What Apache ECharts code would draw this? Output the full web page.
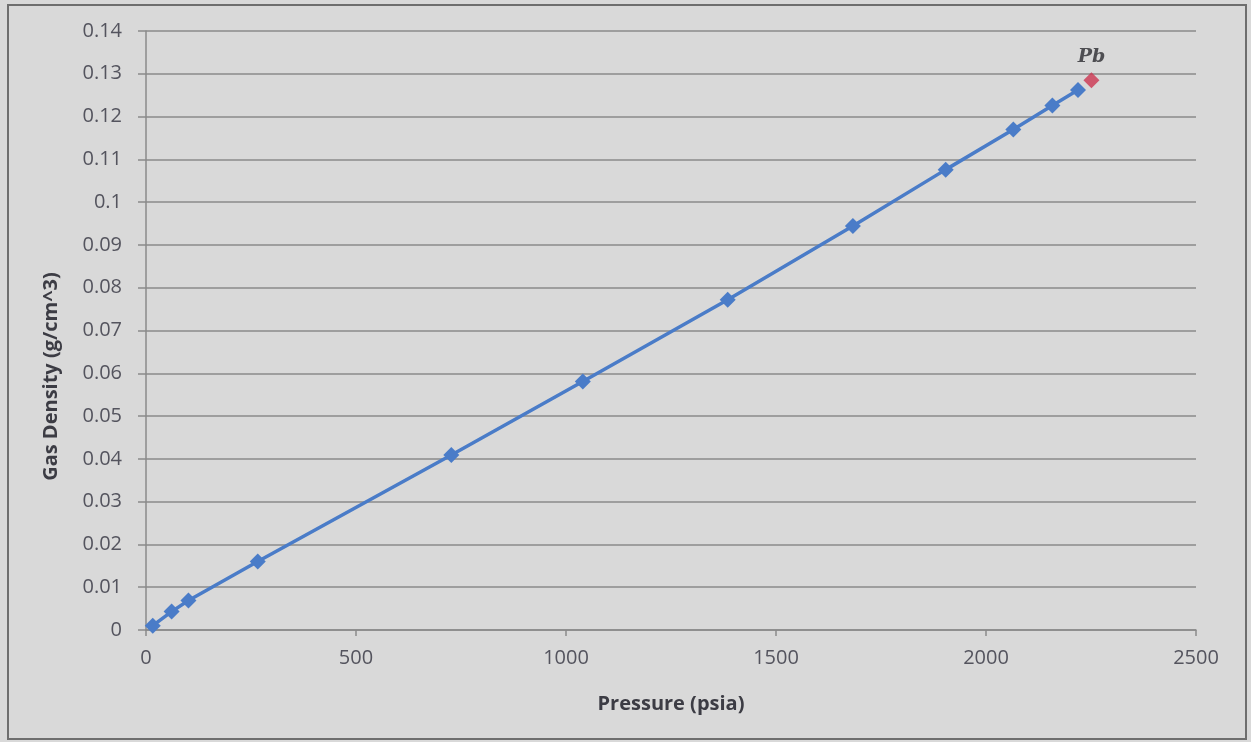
<!DOCTYPE html>
<html>
<head>
<meta charset="utf-8">
<title>Gas Density vs Pressure</title>
<script src="https://cdn.jsdelivr.net/npm/echarts@6/dist/echarts.min.js"></script>
<style>
  html, body { margin: 0; padding: 0; background: #d9d9d9; }
  #chart { width: 1251px; height: 742px; }
</style>
</head>
<body>
<div id="chart"></div>
<script>
// Measured gas density at each pressure step (psia, g/cm^3)
const pressure = [16, 61, 101, 266, 727, 1040, 1385, 1683, 1904, 2065, 2158, 2219];
const density  = [0.0010, 0.0043, 0.0069, 0.0160, 0.0409, 0.0581, 0.0772, 0.0944, 0.1076, 0.1170, 0.1226, 0.1262];

// Bubble point
const bubblePressure = [2251];
const bubbleDensity  = [0.1285];
const bubbleLabel = 'Pb';

const xTicks = { min: 0, max: 2500, step: 500 };
const yTicks = { min: 0, max: 0.14, step: 0.01 };

const xTitle = 'Pressure (psia)';
const yTitle = 'Gas Density (g/cm^3)';

const mainSeries = pressure.map((p, i) => [p, density[i]]);
const bubbleSeries = bubblePressure.map((p, i) => [p, bubbleDensity[i]]);

const tickFont = { fontFamily: '"Open Sans", Lato, sans-serif', fontSize: 20, color: '#54545e' };
const titleFont = { fontFamily: '"Open Sans", Lato, sans-serif', fontSize: 20, fontWeight: 'bold', color: '#3c3c44' };

const chart = echarts.init(document.getElementById('chart'), null, { renderer: 'canvas' });
chart.setOption({
  backgroundColor: '#d9d9d9',
  animation: false,
  grid: { left: 146, right: 55, top: 31, bottom: 112, containLabel: false },
  xAxis: {
    type: 'value',
    min: xTicks.min, max: xTicks.max, interval: xTicks.step,
    name: xTitle, nameLocation: 'middle', nameGap: 64,
    nameTextStyle: titleFont,
    axisLine: { show: true, lineStyle: { color: '#8a8a8a', width: 1.5 } },
    axisTick: { show: true, length: 6, lineStyle: { color: '#8a8a8a', width: 1.5 } },
    axisLabel: Object.assign({ margin: 18, formatter: v => String(v) }, tickFont),
    splitLine: { show: false }
  },
  yAxis: {
    type: 'value',
    min: yTicks.min, max: yTicks.max, interval: yTicks.step,
    name: yTitle, nameLocation: 'middle', nameGap: 85, nameRotate: 90,
    nameTextStyle: Object.assign({ padding: [0, 92, 0, 0] }, titleFont),
    axisLine: { show: true, lineStyle: { color: '#8a8a8a', width: 1.5 } },
    axisTick: { show: true, length: 8, lineStyle: { color: '#8a8a8a', width: 1.5 } },
    axisLabel: Object.assign({ margin: 24, formatter: v => String(+v.toFixed(2)) }, tickFont),
    splitLine: { show: true, lineStyle: { color: '#8a8a8a', width: 1.5 } }
  },
  series: [
    {
      type: 'line',
      data: mainSeries,
      symbol: 'diamond',
      symbolSize: 16,
      lineStyle: { color: '#4a7cc8', width: 3.5 },
      itemStyle: { color: '#4a7cc8' },
      z: 3
    },
    {
      type: 'scatter',
      data: bubbleSeries,
      symbol: 'diamond',
      symbolSize: 16,
      itemStyle: { color: '#cc3450' },
      label: {
        show: true,
        position: 'top',
        distance: 6,
        formatter: bubbleLabel,
        fontFamily: '"DejaVu Serif", "Liberation Serif", serif',
        fontStyle: 'italic',
        fontWeight: 'bold',
        fontSize: 19,
        color: '#2a2a30'
      },
      z: 4
    }
  ],
  graphic: [
    {
      type: 'rect',
      shape: { x: 8, y: 5, width: 1238, height: 734 },
      style: { fill: null, stroke: '#6e6e6e', lineWidth: 2 },
      silent: true
    }
  ]
});
</script>
</body>
</html>
